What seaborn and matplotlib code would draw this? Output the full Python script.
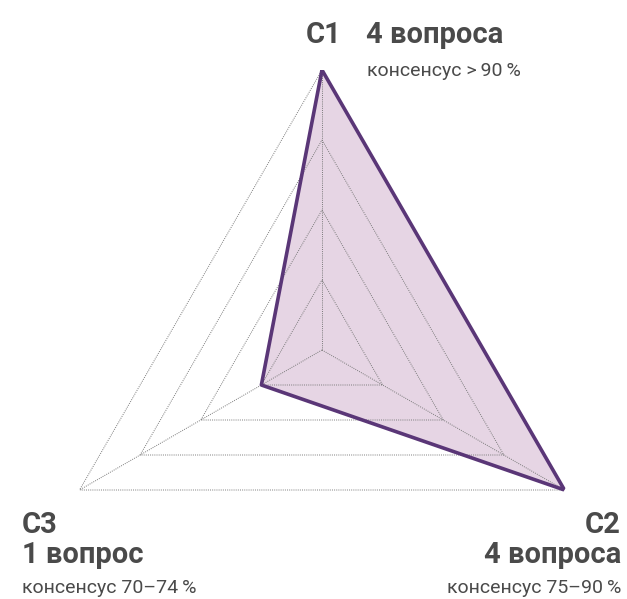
import numpy as np
import matplotlib
matplotlib.use("Agg")
import matplotlib.pyplot as plt
import seaborn as sns

# data
categories = ["C1", "C2", "C3"]
values     = [4, 4, 1]
questions  = ["4 вопроса", "4 вопроса", "1 вопрос"]
consensus  = ["консенсус >\u200990\u2009%", "консенсус 75–90\u2009%", "консенсус 70–74\u2009%"]
levels     = [1, 2, 3, 4]

sns.set_theme(style="white")
plt.rcParams["font.family"] = ["Roboto", "DejaVu Sans"]

TEXT  = "#4a4a4a"
LINE  = "#5a3677"
FILL  = "#e6d5e4"
GRID  = "#7a7a7a"

W, H = 627, 599
fig = plt.figure(figsize=(W / 100, H / 100), dpi=100)
fig.patch.set_facecolor("white")

cx, cy, R = 322, 350, 280
ax = fig.add_axes([(cx - R) / W, (H - cy - R) / H, 2 * R / W, 2 * R / H], projection="polar")
ax.set_theta_offset(np.pi / 2)
ax.set_theta_direction(-1)
ax.set_ylim(0, max(levels))

angles = list(np.linspace(0, 2 * np.pi, len(categories), endpoint=False))
closed_angles = angles + angles[:1]
closed_values = values + values[:1]

# filled shape first, grid on top, outline last
ax.fill(closed_angles, closed_values, color=FILL, zorder=1)
for lvl in levels:
    ax.plot(closed_angles, [lvl] * len(closed_angles), ls=(0, (1, 1.2)), color=GRID, lw=0.7, zorder=2)
for a in angles:
    ax.plot([a, a], [0, max(levels)], ls=(0, (1, 1.2)), color=GRID, lw=0.7, zorder=2)
ax.plot(closed_angles, closed_values, color=LINE, lw=2.6, solid_joinstyle="round", zorder=3)

ax.set_xticks([])
ax.set_yticks([])
ax.grid(False)
ax.spines["polar"].set_visible(False)
ax.set_facecolor("none")


def fx(px):
    return px / W


def fy(py):
    return 1 - py / H


big = dict(fontsize=21, fontweight="bold", color=TEXT)
small = dict(fontsize=14, color=TEXT)

# C1 (top)
fig.text(fx(306), fy(43), categories[0], ha="left", va="baseline", **big)
fig.text(fx(366), fy(43), questions[0], ha="left", va="baseline", **big)
fig.text(fx(367), fy(76), consensus[0], ha="left", va="baseline", **small)

# C2 (bottom right)
fig.text(fx(621), fy(533), categories[1], ha="right", va="baseline", **big)
fig.text(fx(621), fy(563), questions[1], ha="right", va="baseline", **big)
fig.text(fx(621), fy(593), consensus[1], ha="right", va="baseline", **small)

# C3 (bottom left)
fig.text(fx(22), fy(533), categories[2], ha="left", va="baseline", **big)
fig.text(fx(22), fy(563), questions[2], ha="left", va="baseline", **big)
fig.text(fx(22), fy(593), consensus[2], ha="left", va="baseline", **small)

fig.savefig("out.png", dpi=100, facecolor="white")
